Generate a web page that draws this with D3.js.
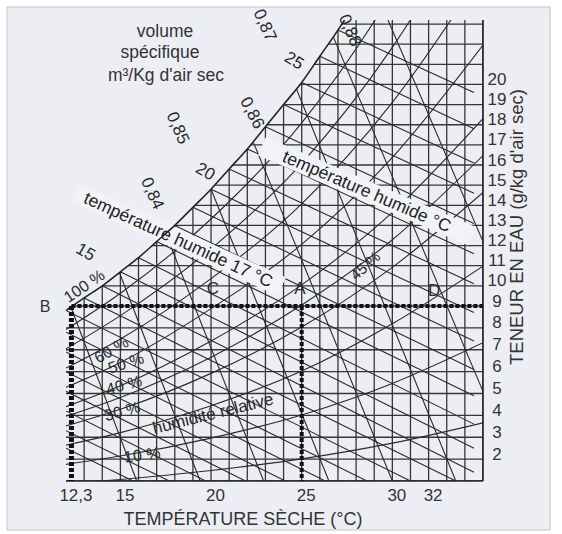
<!DOCTYPE html>
<html lang="fr">
<head>
<meta charset="UTF-8">
<title>Diagramme de l'air humide</title>
<script src="https://cdn.jsdelivr.net/npm/d3@7"></script>
<style>
  body { margin: 0; background: #fff; }
  svg { display: block; font-family: "Liberation Sans", Arial, sans-serif; }
</style>
</head>
<body>
<svg width="562" height="534"></svg>
<script>
// courbe de saturation (100 %) : température sèche °C / teneur en eau g/kg
const satT = [12, 13, 14, 15, 16, 17, 18, 19, 20, 21, 22, 23, 24, 25, 26, 27, 28];
const satW = [8.8, 9.4, 10.0, 10.7, 11.4, 12.2, 13.0, 13.9, 14.8, 15.8, 16.8, 17.9, 19.0, 20.1, 21.4, 22.7, 24.1];

// humidité relative
const rhTemps = [12, 15, 20, 25, 30, 35];
const rh10 = [0.88, 1.07, 1.48, 2.01, 2.73, 3.66];
const rh20 = [1.76, 2.14, 2.96, 4.02, 5.46, 7.32];
const rh30 = [2.64, 3.21, 4.44, 6.03, 8.19, 10.98];
const rh40 = [3.52, 4.28, 5.92, 8.04, 10.92, 14.64];
const rh45 = [3.96, 4.82, 6.66, 9.05, 12.29, 16.47];
const rh50 = [4.40, 5.35, 7.40, 10.05, 13.65, 18.30];
const rh60 = [5.28, 6.42, 8.88, 12.06, 16.38, 21.96];
const rh70 = [6.16, 7.49, 10.36, 14.07, 19.11, 25.60];
const rh80 = [7.04, 8.56, 11.84, 16.08, 21.84, 29.30];
const rh90 = [7.92, 9.63, 13.32, 18.09, 24.57, 32.90];

// températures humides : début et fin de chaque droite
const wbTemps  = [5, 6, 7, 8, 9, 10, 11, 12, 13, 14, 15, 16, 17, 18, 19, 20, 21, 22, 23, 24, 25, 26, 27];
const wbStartT = [12, 12, 12, 12, 12, 12, 12, 12, 13, 14, 15, 16, 17, 18, 19, 20, 21, 22, 23, 24, 25, 26, 27];
const wbStartW = [2.5, 3.3, 4.2, 5.1, 6.0, 6.9, 7.8, 8.8, 9.4, 10.0, 10.7, 11.4, 12.2, 13.0, 13.9, 14.8, 15.8, 16.8, 17.9, 19.0, 20.1, 21.4, 22.7];
const wbEndT   = [15.7, 17.7, 19.7, 21.9, 24.1, 26.3, 28.6, 31.0, 33.5, 34.5, 34.5, 34.5, 34.5, 34.5, 34.5, 34.5, 34.5, 34.5, 34.5, 34.5, 34.5, 34.5, 34.5];
const wbEndW   = [1, 1, 1, 1, 1, 1, 1, 1, 1, 1.4, 2.5, 3.6, 4.9, 6.1, 7.4, 8.7, 10.1, 11.6, 13.1, 14.6, 16.1, 17.8, 19.6];

// volume spécifique m3/kg
const volValues = [0.82, 0.83, 0.84, 0.85, 0.86, 0.87, 0.88, 0.89];
const volStartT = [12.25, 14.95, 17.5, 20.0, 22.35, 24.7, 26.75, 29.76];
const volStartW = [9.0, 10.65, 12.6, 14.8, 17.1, 19.8, 22.35, 23.2];
const volEndT   = [15.9, 19.4, 22.9, 26.5, 30.0, 33.5, 35, 35];
const volEndW   = [1, 1, 1, 1, 1, 1, 5.1, 12.2];

// axes
const tTicks = [12.3, 15, 20, 25, 30, 32];
const wTicks = [2, 3, 4, 5, 6, 7, 8, 9, 10, 11, 12, 13, 14, 15, 16, 17, 18, 19, 20];

// points
const pointB = [12.3, 9];
const pointA = [25, 9];

const tMin = 12, tMax = 35, wMin = 1, wMax = 23.2;
const x = d3.scaleLinear().domain([tMin, tMax]).range([66, 483]);
const y = d3.scaleLinear().domain([wMin, 9, wMax]).range([481, 306, 20]);

const svg = d3.select("svg");
const bg = "#eceef4";
const ink = "#363636";

svg.append("rect").attr("x", 7).attr("y", 7).attr("width", 543).attr("height", 523)
  .attr("fill", bg).attr("stroke", "#c4c6cc");

const defs = svg.append("defs");
defs.append("clipPath").attr("id", "box").append("rect")
  .attr("x", x(tMin)).attr("y", y(wMax))
  .attr("width", x(tMax) - x(tMin)).attr("height", y(wMin) - y(wMax));

const sat = satT.map((t, i) => [t, satW[i]]);
const under = sat.concat([[tMax, satW[satW.length - 1]], [tMax, wMin], [tMin, wMin]]);
defs.append("clipPath").attr("id", "under").append("path")
  .attr("d", d3.line().x(d => x(d[0])).y(d => y(d[1]))(under) + "Z");

const plot = svg.append("g").attr("clip-path", "url(#box)")
  .append("g").attr("clip-path", "url(#under)");

// quadrillage
const vT = d3.range(13, 36);
plot.selectAll(".vg").data(vT).join("line")
  .attr("x1", d => x(d)).attr("x2", d => x(d))
  .attr("y1", y(wMin)).attr("y2", y(wMax))
  .attr("stroke", ink).attr("stroke-width", 1.3);
const hW = d3.range(1, 24);
plot.selectAll(".hg").data(hW).join("line")
  .attr("x1", x(tMin)).attr("x2", x(tMax))
  .attr("y1", d => y(d)).attr("y2", d => y(d))
  .attr("stroke", ink).attr("stroke-width", 1.3);

// droites de température humide
plot.selectAll(".wb").data(wbTemps).join("line")
  .attr("x1", (d, i) => x(wbStartT[i])).attr("y1", (d, i) => y(wbStartW[i]))
  .attr("x2", (d, i) => x(wbEndT[i])).attr("y2", (d, i) => y(wbEndW[i]))
  .attr("stroke", "#2a2a2a").attr("stroke-width", 1.1);

// droites de volume spécifique
plot.selectAll(".vol").data(volValues).join("line")
  .attr("x1", (d, i) => x(volStartT[i])).attr("y1", (d, i) => y(volStartW[i]))
  .attr("x2", (d, i) => x(volEndT[i])).attr("y2", (d, i) => y(volEndW[i]))
  .attr("stroke", "#2a2a2a").attr("stroke-width", 1.1);

// courbes d'humidité relative
const rhSeries = [rh10, rh20, rh30, rh40, rh45, rh50, rh60, rh70, rh80, rh90];
const curve = d3.line().x(d => x(d[0])).y(d => y(d[1])).curve(d3.curveMonotoneX);
plot.selectAll(".rh").data(rhSeries).join("path")
  .attr("d", s => curve(rhTemps.map((t, i) => [t, s[i]])))
  .attr("fill", "none").attr("stroke", "#2a2a2a").attr("stroke-width", 1.1);

// bandes "température humide"
const bands = [
  { t0: 12.6, w0: 14.6, t1: 23.8, w1: 10.0, text: "température humide 17 °C" },
  { t0: 22.9, w0: 16.9, t1: 34.3, w1: 12.5, text: "température humide °C" }
];
bands.forEach(b => {
  const x0 = x(b.t0), y0 = y(b.w0), x1 = x(b.t1), y1 = y(b.w1);
  const ang = Math.atan2(y1 - y0, x1 - x0) * 180 / Math.PI;
  const len = Math.hypot(x1 - x0, y1 - y0);
  const g = svg.append("g").attr("transform", `translate(${x0},${y0}) rotate(${ang})`);
  g.append("rect").attr("x", -2).attr("y", -10).attr("width", len + 4).attr("height", 20).attr("fill", "#f2f3f7");
  g.append("text").attr("x", len / 2).attr("y", 6).attr("text-anchor", "middle")
    .attr("font-size", 17.5).attr("fill", "#222").text(b.text);
});

// saturation
svg.append("g").attr("clip-path", "url(#box)").append("path")
  .attr("d", curve(sat)).attr("fill", "none").attr("stroke", "#222").attr("stroke-width", 1.6);

// bords
svg.append("line").attr("x1", x(tMin)).attr("x2", x(tMax)).attr("y1", y(wMin)).attr("y2", y(wMin))
  .attr("stroke", "#222").attr("stroke-width", 1.6);
svg.append("line").attr("x1", x(tMax)).attr("x2", x(tMax)).attr("y1", y(wMin)).attr("y2", y(wMax))
  .attr("stroke", "#222").attr("stroke-width", 1.6);

// pointillés B - A - D
const dots = svg.append("g").attr("stroke", "#111").attr("fill", "none");
dots.append("line").attr("x1", x(pointB[0])).attr("x2", x(tMax)).attr("y1", y(pointB[1])).attr("y2", y(pointB[1]))
  .attr("stroke-width", 4).attr("stroke-dasharray", "4,2");
dots.append("line").attr("x1", x(pointB[0])).attr("x2", x(pointB[0])).attr("y1", y(pointB[1])).attr("y2", y(wMin))
  .attr("stroke-width", 5).attr("stroke-dasharray", "4,2");
dots.append("line").attr("x1", x(pointA[0])).attr("x2", x(pointA[0])).attr("y1", y(pointA[1])).attr("y2", y(wMin))
  .attr("stroke-width", 4).attr("stroke-dasharray", "4,2");

// axes
const xAxis = svg.append("g").attr("transform", `translate(0,${y(wMin)})`)
  .call(d3.axisBottom(x).tickValues(tTicks).tickSize(0).tickPadding(8)
    .tickFormat(d => String(d).replace(".", ",")));
xAxis.select(".domain").remove();
xAxis.selectAll("text").attr("font-size", 17).attr("fill", "#333").attr("dx", 4)
  .attr("font-family", "Liberation Sans, Arial, sans-serif");

const yAxis = svg.append("g").attr("transform", `translate(${x(tMax) + 14},0)`)
  .call(d3.axisRight(y).tickValues(wTicks).tickSize(0).tickPadding(0));
yAxis.select(".domain").remove();
yAxis.selectAll("text").attr("font-size", 17).attr("fill", "#333").attr("text-anchor", "middle")
  .attr("dy", "0.0em").attr("font-family", "Liberation Sans, Arial, sans-serif");

svg.append("text").attr("x", 243).attr("y", 525).attr("text-anchor", "middle")
  .attr("font-size", 18).attr("fill", "#333").text("TEMPÉRATURE SÈCHE (°C)");
svg.append("text").attr("transform", "translate(523,227) rotate(-90)").attr("text-anchor", "middle")
  .attr("font-size", 18.5).attr("fill", "#333").text("TENEUR EN EAU (g/kg d'air sec)");

const title = svg.append("g").attr("text-anchor", "middle").attr("font-size", 17.5).attr("fill", "#333");
title.append("text").attr("x", 165).attr("y", 37).text("volume");
title.append("text").attr("x", 160).attr("y", 58).text("spécifique");
title.append("text").attr("x", 166).attr("y", 81).text("m³/Kg d'air sec");

// annotations placées en coordonnées du diagramme
function note(t, w, str, ang, size) {
  svg.append("text").attr("transform", `translate(${x(t)},${y(w)}) rotate(${ang})`)
    .attr("text-anchor", "middle").attr("dy", "0.35em")
    .attr("font-size", size).attr("fill", "#2a2a2a").text(str);
}
note(16.8, 14.6, "0,84", 66, 17);
note(18.2, 17.85, "0,85", 66, 17);
note(22.3, 18.6, "0,86", 62, 17);
note(23.0, 22.95, "0,87", 66, 17);
note(27.7, 22.7, "0,88", 66, 17);
note(13.1, 11.7, "15", 30, 17);
note(19.7, 15.7, "20", 30, 17);
note(24.6, 21.2, "25", 32, 17);
note(13.0, 10.0, "100 %", -34, 16);
note(20.1, 9.9, "C", 0, 17);
note(24.9, 9.9, "A", 0, 17);
note(32.3, 9.8, "D", 0, 17);
note(14.5, 7.0, "60 %", -30, 16);
note(15.3, 6.4, "50 %", -18, 16);
note(15.2, 5.4, "40 %", -15, 16);
note(15.1, 4.2, "30 %", -15, 16);
note(20.1, 4.1, "humidité relative", -14, 17);
note(16.2, 2.2, "10 %", -8, 16);
note(28.5, 11.0, "45 %", -42, 15);
svg.append("text").attr("x", 45).attr("y", y(pointB[1])).attr("dy", "0.35em")
  .attr("text-anchor", "middle").attr("font-size", 16).attr("fill", "#333").text("B");
</script>
</body>
</html>
